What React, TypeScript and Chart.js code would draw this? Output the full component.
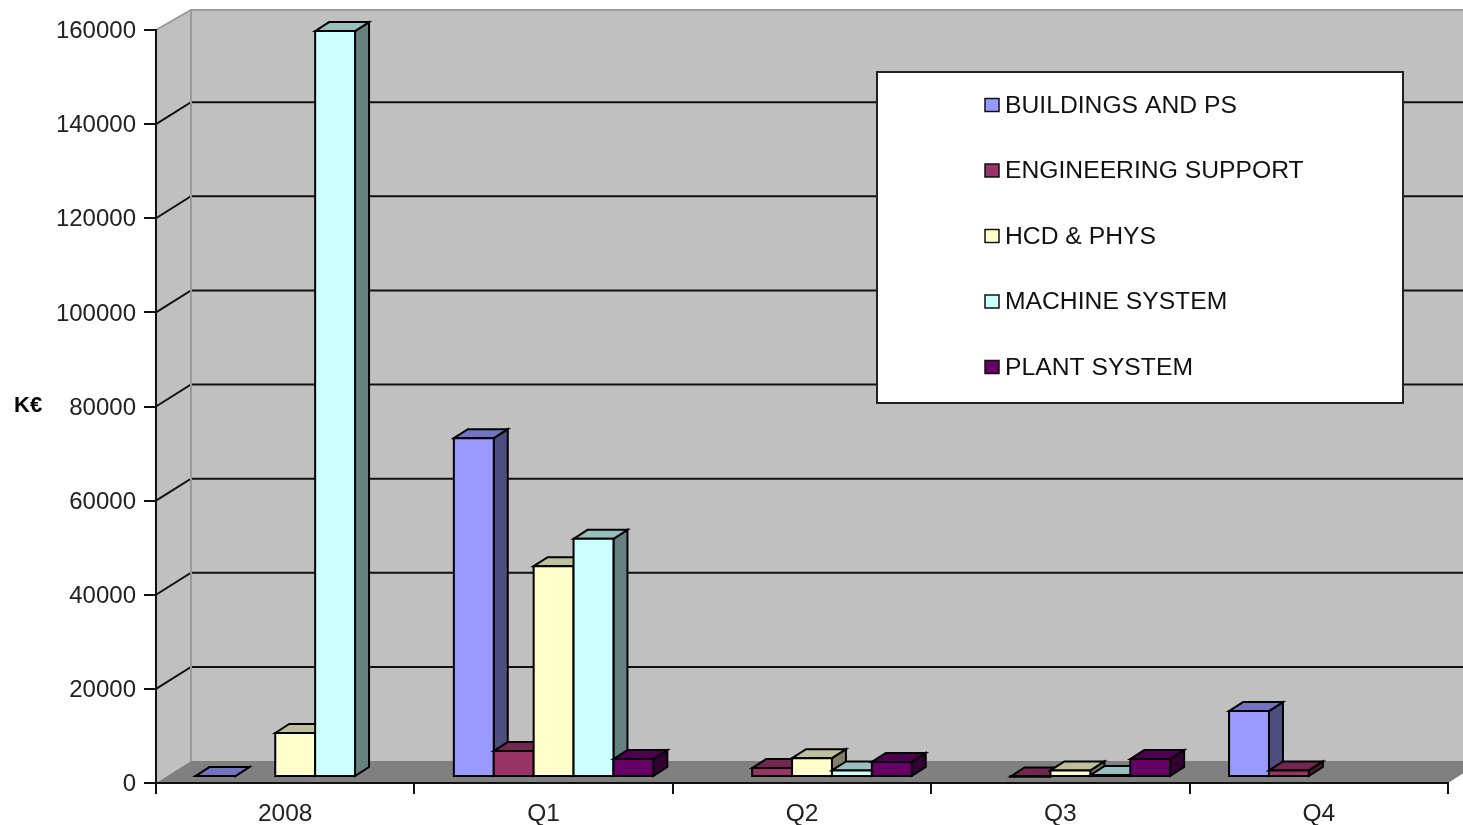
import React, { useEffect, useRef } from "react";
import { Chart, registerables } from "chart.js";

Chart.register(...registerables);

const categories = ["2008", "Q1", "Q2", "Q3", "Q4"];
const buildings = [200, 72000, null, null, 14000];
const engineering = [null, 5500, 1900, 100, 1400];
const hcd = [9350, 44800, 4000, 1400, null];
const machine = [158500, 50600, 1400, 400, null];
const plant = [null, 3800, 3200, 3800, null];
const seriesNames = ["BUILDINGS AND PS", "ENGINEERING SUPPORT", "HCD & PHYS", "MACHINE SYSTEM", "PLANT SYSTEM"];
const seriesFront = ["#9999FF", "#993366", "#FFFFCC", "#CCFFFF", "#660066"];
const seriesTop = ["#7373BF", "#732650", "#BFBF99", "#99BFBF", "#4D004D"];
const seriesSide = ["#4D4D80", "#4D1A33", "#808066", "#668080", "#330033"];
const seriesValues = [buildings, engineering, hcd, machine, plant];
const FONT = '"Liberation Sans", Arial, sans-serif';

const WALL_DX = 35;
const WALL_DY = 22;
const BAR_DX = 10;
const BAR_DY = 6;
const DEPTH_X = 14;
const DEPTH_Y = 9;

function poly(ctx: CanvasRenderingContext2D, pts: number[][], fill: string | null, stroke: string | null, lw = 2) {
  ctx.beginPath();
  pts.forEach((p, i) => (i ? ctx.lineTo(p[0], p[1]) : ctx.moveTo(p[0], p[1])));
  ctx.closePath();
  if (fill) {
    ctx.fillStyle = fill;
    ctx.fill();
  }
  if (stroke) {
    ctx.strokeStyle = stroke;
    ctx.lineWidth = lw;
    ctx.lineJoin = "miter";
    ctx.stroke();
  }
}

const wallsPlugin = {
  id: "walls3d",
  beforeDraw(chart: any) {
    const { ctx, chartArea: a, scales } = chart;
    const y = scales.y;
    ctx.save();
    const wallL = a.left + WALL_DX;
    const wallR = a.right + WALL_DX;
    const top = a.top - 20;
    const back = a.bottom - WALL_DY;
    poly(ctx, [[a.left, a.top], [wallL, top], [wallL, back], [a.left, a.bottom]], "#C0C0C0", null);
    poly(ctx, [[wallL, top], [wallR, top], [wallR, back], [wallL, back]], "#C0C0C0", null);
    poly(ctx, [[a.left, a.bottom], [wallL, back], [wallR, back], [a.right, a.bottom]], "#808080", null);
    y.ticks.forEach((t: any, i: number) => {
      if (t.value === 0 || t.value === y.max) return;
      const py = y.getPixelForTick(i);
      ctx.beginPath();
      ctx.moveTo(a.left, py);
      ctx.lineTo(wallL, py - WALL_DY);
      ctx.lineTo(wallR, py - WALL_DY);
      ctx.strokeStyle = "#111";
      ctx.lineWidth = 2;
      ctx.stroke();
    });
    ctx.strokeStyle = "#9A9A9A";
    ctx.lineWidth = 2;
    ctx.beginPath();
    ctx.moveTo(a.left, a.top);
    ctx.lineTo(wallL, top);
    ctx.lineTo(wallR, top);
    ctx.moveTo(wallL, top);
    ctx.lineTo(wallL, back);
    ctx.stroke();
    ctx.restore();
  },
  beforeDatasetsDraw(chart: any) {
    const ctx: CanvasRenderingContext2D = chart.ctx;
    ctx.save();
    categories.forEach((_, c) => {
      chart.data.datasets.forEach((_ds: any, d: number) => {
        if (seriesValues[d][c] === null) return;
        const el = chart.getDatasetMeta(d).data[c];
        const l = el.x - el.width / 2 + BAR_DX;
        const r = el.x + el.width / 2 + BAR_DX;
        const t = el.y - BAR_DY;
        const b = el.base - BAR_DY;
        poly(ctx, [[r, t], [r + DEPTH_X, t - DEPTH_Y], [r + DEPTH_X, b - DEPTH_Y], [r, b]], seriesSide[d], "#000");
        poly(ctx, [[l, t], [l + DEPTH_X, t - DEPTH_Y], [r + DEPTH_X, t - DEPTH_Y], [r, t]], seriesTop[d], "#000");
        poly(ctx, [[l, t], [r, t], [r, b], [l, b]], seriesFront[d], "#000");
      });
    });
    ctx.restore();
    return false;
  },
  afterDraw(chart: any) {
    const ctx: CanvasRenderingContext2D = chart.ctx;
    ctx.save();
    // legend panel
    const bx = 877, by = 72, bw = 526, bh = 331;
    ctx.fillStyle = "#fff";
    ctx.fillRect(bx, by, bw, bh);
    ctx.strokeStyle = "#222";
    ctx.lineWidth = 2;
    ctx.strokeRect(bx, by, bw, bh);
    ctx.textBaseline = "middle";
    ctx.textAlign = "left";
    ctx.font = `24.7px ${FONT}`;
    seriesNames.forEach((name, i) => {
      const cy = by + 33 + i * 65.5;
      ctx.fillStyle = seriesFront[i];
      ctx.fillRect(985, cy - 6.5, 14, 13);
      ctx.strokeStyle = "#111";
      ctx.lineWidth = 1.5;
      ctx.strokeRect(985, cy - 6.5, 14, 13);
      ctx.fillStyle = "#111";
      ctx.fillText(name, 1005, cy + 1);
    });
    // vertical axis unit, written horizontally as in the reference
    ctx.font = `bold 22px ${FONT}`;
    ctx.fillStyle = "#000";
    ctx.fillText("K€", 14, 406);
    ctx.restore();
  },
};

export default function App() {
  const ref = useRef<HTMLCanvasElement>(null);
  useEffect(() => {
    const chart = new Chart(ref.current as HTMLCanvasElement, {
      type: "bar",
      data: {
        labels: categories,
        datasets: seriesNames.map((label, i) => ({
          label,
          data: seriesValues[i],
          backgroundColor: seriesFront[i],
          categoryPercentage: 0.772,
          barPercentage: 1,
        })),
      },
      options: {
        animation: false,
        responsive: false,
        devicePixelRatio: 1,
        layout: { padding: { top: 30, right: 15, left: 0, bottom: 0 } },
        plugins: { legend: { display: false }, tooltip: { enabled: false }, title: { display: false } },
        scales: {
          x: {
            grid: { drawOnChartArea: false, drawTicks: true, tickLength: 11, color: "#111", lineWidth: 2, offset: true },
            border: { color: "#111", width: 2 },
            ticks: { color: "#222", padding: 6, font: { family: FONT, size: 24.5 }, maxRotation: 0 },
            afterFit: (s: any) => { s.height = 42; },
          },
          y: {
            min: 0,
            max: 160000,
            grid: { drawOnChartArea: false, drawTicks: true, tickLength: 12, color: "#111", lineWidth: 2 },
            border: { color: "#111", width: 2 },
            ticks: {
              stepSize: 20000,
              color: "#222",
              padding: 8,
              labelOffset: 1.5,
              font: { family: FONT, size: 24 },
              callback: (v: any) => String(v),
            },
            afterFit: (s: any) => { s.width = 156; },
          },
        },
      },
      plugins: [wallsPlugin],
    } as any);
    return () => chart.destroy();
  }, []);
  return (
    <div style={{ position: "absolute", left: 0, top: 0, width: 1463, height: 825, overflow: "hidden", background: "#fff" }}>
      <canvas ref={ref} width={1463} height={825} style={{ display: "block", filter: "blur(0.5px)" }} />
    </div>
  );
}
